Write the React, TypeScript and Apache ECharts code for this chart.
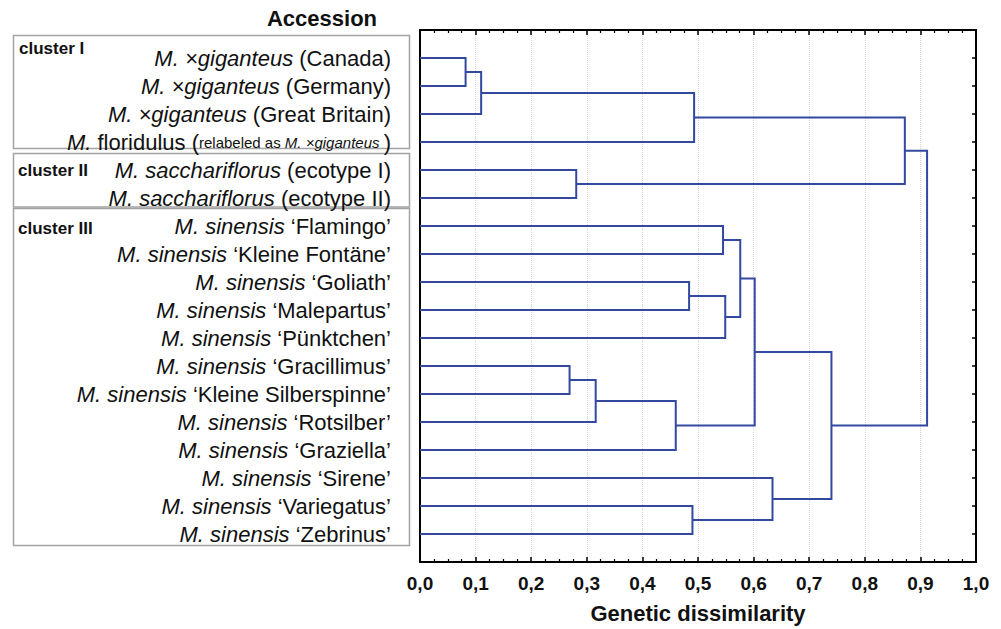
import React, { useEffect, useRef } from "react";
import * as echarts from "echarts";

// Leaf labels (top to bottom), rich-text markup: {i|...} italic, {s|...} small, {si|...} small italic
const leafLabels: string[] = [
  "{i|M. ×giganteus} (Canada)",
  "{i|M. ×giganteus} (Germany)",
  "{i|M. ×giganteus} (Great Britain)",
  "{i|M.} floridulus ({s|relabeled as }{si|M. ×giganteus}{s| })",
  "{i|M. sacchariflorus} (ecotype I)",
  "{i|M. sacchariflorus} (ecotype II)",
  "{i|M. sinensis} ‘Flamingo’",
  "{i|M. sinensis} ‘Kleine Fontäne’",
  "{i|M. sinensis} ‘Goliath’",
  "{i|M. sinensis} ‘Malepartus’",
  "{i|M. sinensis} ‘Pünktchen’",
  "{i|M. sinensis} ‘Gracillimus’",
  "{i|M. sinensis} ‘Kleine Silberspinne’",
  "{i|M. sinensis} ‘Rotsilber’",
  "{i|M. sinensis} ‘Graziella’",
  "{i|M. sinensis} ‘Sirene’",
  "{i|M. sinensis} ‘Variegatus’",
  "{i|M. sinensis} ‘Zebrinus’",
];

// Merges: [childA, childB, dissimilarity]; indices 0..17 are leaves, 18+ are earlier merges
const merges: [number, number, number][] = [
  [0, 1, 0.082], // 18
  [18, 2, 0.11], // 19
  [19, 3, 0.493], // 20
  [4, 5, 0.281], // 21
  [20, 21, 0.872], // 22
  [6, 7, 0.545], // 23
  [8, 9, 0.484], // 24
  [24, 10, 0.549], // 25
  [23, 25, 0.576], // 26
  [11, 12, 0.269], // 27
  [27, 13, 0.316], // 28
  [28, 14, 0.46], // 29
  [26, 29, 0.602], // 30
  [16, 17, 0.49], // 31
  [15, 31, 0.634], // 32
  [30, 32, 0.74], // 33
  [22, 33, 0.912], // 34
];

const xTicks = [0, 1];
const clusterNames = ["cluster I", "cluster II", "cluster III"];

const FONT = "'Liberation Sans', Arial, sans-serif";
const BLUE = "#3349a0";

export default function App() {
  const ref = useRef<HTMLDivElement>(null);

  useEffect(() => {
    if (!ref.current) return;
    const chart = echarts.init(ref.current, null, { renderer: "svg" });

    const pos: { h: number; y: number }[] = leafLabels.map((_, i) => ({ h: 0, y: i + 1 }));
    merges.forEach(([a, b, h]) => {
      pos.push({ h, y: (pos[a].y + pos[b].y) / 2 });
    });
    const segments = merges.map(([a, b, h]) => [pos[a].h, pos[a].y, h, pos[b].y, pos[b].h]);

    const nLeaves = leafLabels.length;

    const xAxisBase = {
      type: "value",
      min: xTicks[0],
      max: xTicks[1],
      interval: 0.1,
      axisLine: { show: true, onZero: false, lineStyle: { color: "#000", width: 2 } },
      axisTick: { show: true, inside: true, length: 5, lineStyle: { color: "#000", width: 1.5 } },
      minorTick: { show: true, splitNumber: 4, length: 3, lineStyle: { color: "#000", width: 1.2 } },
    };

    const yAxisBase = {
      type: "value",
      min: 0,
      max: nLeaves + 1,
      interval: 1,
      inverse: true,
      axisLine: { show: true, onZero: false, lineStyle: { color: "#000", width: 2 } },
      axisTick: { show: true, inside: true, length: 4, lineStyle: { color: "#000", width: 1.5 } },
      splitLine: { show: false },
    };

    chart.setOption({
      animation: false,
      backgroundColor: "#fff",
      grid: { left: 420, right: 25, top: 30, bottom: 65, containLabel: false },
      xAxis: [
        {
          ...xAxisBase,
          position: "bottom",
          name: "Genetic dissimilarity",
          nameLocation: "middle",
          nameGap: 40,
          nameTextStyle: { fontFamily: FONT, fontSize: 22, fontWeight: "bold", color: "#111" },
          axisLabel: {
            show: true,
            margin: 12,
            fontFamily: FONT,
            fontSize: 19,
            fontWeight: "bold",
            color: "#111",
            formatter: (v: number) => v.toFixed(1).replace(".", ","),
          },
          splitLine: { show: true, lineStyle: { color: "#d4d4d4", type: "dotted", width: 1 } },
        },
        {
          ...xAxisBase,
          position: "top",
          axisLabel: { show: false },
          splitLine: { show: false },
        },
      ],
      yAxis: [
        {
          ...yAxisBase,
          position: "left",
          axisLabel: {
            show: true,
            margin: 29,
            fontFamily: FONT,
            fontSize: 22,
            color: "#111",
            formatter: (v: number) => leafLabels[v - 1] ?? "",
            rich: {
              i: { fontFamily: FONT, fontSize: 22, fontStyle: "italic", color: "#111" },
              s: { fontFamily: FONT, fontSize: 15, color: "#111" },
              si: { fontFamily: FONT, fontSize: 15, fontStyle: "italic", color: "#111" },
            },
          },
        },
        {
          ...yAxisBase,
          position: "right",
          axisLabel: { show: false },
        },
      ],
      graphic: [
        {
          type: "text",
          x: 322,
          y: 18,
          style: {
            text: "Accession",
            fontFamily: FONT,
            fontSize: 22,
            fontWeight: "bold",
            fill: "#111",
            align: "center",
            verticalAlign: "middle",
          },
        },
        {
          type: "rect",
          shape: { x: 13.5, y: 35.5, width: 396, height: 113 },
          style: { fill: "none", stroke: "#a3a3a3", lineWidth: 1.5 },
          z: -1,
        },
        {
          type: "rect",
          shape: { x: 13.5, y: 153.5, width: 396, height: 53.5 },
          style: { fill: "none", stroke: "#a3a3a3", lineWidth: 1.5 },
          z: -1,
        },
        {
          type: "rect",
          shape: { x: 13.5, y: 208.5, width: 396, height: 337 },
          style: { fill: "none", stroke: "#a3a3a3", lineWidth: 1.5 },
          z: -1,
        },
        {
          type: "text",
          x: 19,
          y: 48,
          style: {
            text: clusterNames[0],
            fontFamily: FONT,
            fontSize: 17,
            fontWeight: "bold",
            fill: "#111",
            verticalAlign: "middle",
          },
        },
        {
          type: "text",
          x: 18,
          y: 170,
          style: {
            text: clusterNames[1],
            fontFamily: FONT,
            fontSize: 17,
            fontWeight: "bold",
            fill: "#111",
            verticalAlign: "middle",
          },
        },
        {
          type: "text",
          x: 18,
          y: 228,
          style: {
            text: clusterNames[2],
            fontFamily: FONT,
            fontSize: 17,
            fontWeight: "bold",
            fill: "#111",
            verticalAlign: "middle",
          },
        },
      ],
      series: [
        {
          type: "custom",
          xAxisIndex: 0,
          yAxisIndex: 0,
          encode: { x: [0, 2, 4], y: [1, 3] },
          data: segments,
          renderItem: (_params: any, api: any) => {
            const h1 = api.value(0);
            const y1 = api.value(1);
            const h = api.value(2);
            const y2 = api.value(3);
            const h2 = api.value(4);
            const pts = [
              api.coord([h1, y1]),
              api.coord([h, y1]),
              api.coord([h, y2]),
              api.coord([h2, y2]),
            ];
            return {
              type: "polyline",
              shape: { points: pts },
              style: { stroke: BLUE, lineWidth: 2, fill: "none" },
            };
          },
        },
      ],
    });

    return () => chart.dispose();
  }, []);

  return (
    <div
      ref={ref}
      style={{ position: "fixed", left: 0, top: 0, width: 1001, height: 629 }}
    />
  );
}
